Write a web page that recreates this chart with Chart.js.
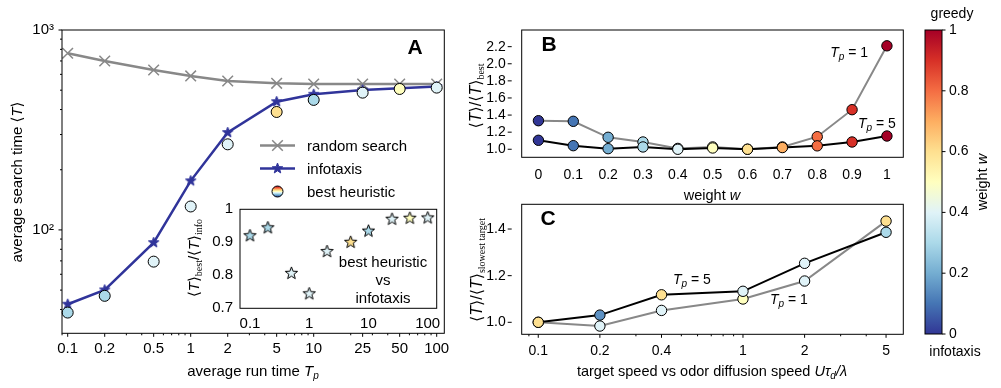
<!DOCTYPE html>
<html>
<head>
<meta charset="utf-8">
<script src="https://cdn.jsdelivr.net/npm/chart.js@4.4.0/dist/chart.umd.min.js"></script>
<style>
html, body { margin: 0; padding: 0; background: #fff; }
#fig { position: relative; width: 1001px; height: 388px; overflow: hidden; }
#fig canvas { position: absolute; left: 0; top: 0; }
</style>
</head>
<body>
<div id="fig">
  <canvas id="chartA" width="1001" height="388"></canvas>
  <canvas id="inset" width="1001" height="388"></canvas>
  <canvas id="chartB" width="1001" height="388"></canvas>
  <canvas id="chartC" width="1001" height="388"></canvas>
  <canvas id="cbar" width="1001" height="388"></canvas>
</div>
<script>
// ---- data: panel A ----
const runTimes = [0.1, 0.2, 0.5, 1, 2, 5, 10, 25, 50, 100];
const runTimeLabels = ['0.1', '0.2', '0.5', '1', '2', '5', '10', '25', '50', '100'];
const randomSearch = [765, 700, 631, 589, 556, 541, 537, 537, 537, 537];
const infotaxis = [42.5, 50.1, 86.4, 176, 307, 438, 477, 501, 511, 521];
const bestHeuristic = [38.6, 46.8, 69.4, 131, 268, 389, 447, 486, 507, 515];
const bestWeight = [0.3, 0.3, 0.4, 0.4, 0.4, 0.6, 0.3, 0.4, 0.5, 0.4];
const searchTicks = [100, 1000];
const searchTickLabels = ['10²', '10³'];

// inset: best heuristic vs infotaxis
const insetRatio = [0.92, 0.944, 0.806, 0.744, 0.872, 0.90, 0.934, 0.97, 0.973, 0.974];
const insetXTicks = [0.1, 1, 10, 100];
const insetXLabels = ['0.1', '1', '10', '100'];
const insetYTicks = [0.7, 0.8, 0.9, 1];
const insetYLabels = ['0.7', '0.8', '0.9', '1'];

// ---- panel B ----
const weights = [0, 0.1, 0.2, 0.3, 0.4, 0.5, 0.6, 0.7, 0.8, 0.9, 1];
const weightLabels = ['0', '0.1', '0.2', '0.3', '0.4', '0.5', '0.6', '0.7', '0.8', '0.9', '1'];
const ratioTp1 = [1.334, 1.327, 1.14, 1.085, 1.01, 1.027, 1.0, 1.027, 1.147, 1.463, 2.21];
const ratioTp5 = [1.105, 1.042, 1.007, 1.027, 1.0, 1.015, 1.0, 1.02, 1.04, 1.085, 1.155];
const ratioBTicks = [1.0, 1.2, 1.4, 1.6, 1.8, 2.0, 2.2];
const ratioBLabels = ['1.0', '1.2', '1.4', '1.6', '1.8', '2.0', '2.2'];

// ---- panel C ----
const speeds = [0.1, 0.2, 0.4, 1, 2, 5];
const speedLabels = ['0.1', '0.2', '0.4', '1', '2', '5'];
const speedTp5 = [1.0, 1.031, 1.118, 1.133, 1.253, 1.386];
const speedTp5Weight = [0.6, 0.15, 0.6, 0.4, 0.4, 0.3];
const speedTp1 = [1.0, 0.984, 1.051, 1.10, 1.177, 1.434];
const speedTp1Weight = [0.6, 0.4, 0.4, 0.5, 0.4, 0.6];
const ratioCTicks = [1.0, 1.2, 1.4];
const ratioCLabels = ['1.0', '1.2', '1.4'];

// colorbar
const cbarTicks = [0, 0.2, 0.4, 0.6, 0.8, 1];
const cbarLabels = ['0', '0.2', '0.4', '0.6', '0.8', '1'];

// ---- helpers ----
const SANS = "'Liberation Sans', Arial, Helvetica, 'DejaVu Sans', sans-serif";
const SERIF = "'Liberation Serif', 'DejaVu Serif', serif";
Chart.defaults.font.family = SANS;
Chart.defaults.color = '#000';

const BLUE = '#30349a';
const GRAY = '#888888';

// RdYlBu reversed
const cmapStops = ['#313695', '#4575b4', '#74add1', '#abd9e9', '#e0f3f8', '#ffffbf',
                   '#fee090', '#fdae61', '#f46d43', '#d73027', '#a50026'];
function hex2rgb(h) { return [1, 3, 5].map(i => parseInt(h.substr(i, 2), 16)); }
function cmap(w) {
  const t = Math.max(0, Math.min(1, w)) * (cmapStops.length - 1);
  const i = Math.min(Math.floor(t), cmapStops.length - 2);
  const f = t - i;
  const a = hex2rgb(cmapStops[i]), b = hex2rgb(cmapStops[i + 1]);
  const c = a.map((v, k) => Math.round(v + (b[k] - v) * f));
  return 'rgb(' + c.join(',') + ')';
}

function starImg(fill, stroke, R) {
  const c = document.createElement('canvas');
  const s = Math.ceil(2 * R + 4);
  c.width = s; c.height = s;
  const g = c.getContext('2d');
  g.beginPath();
  for (let k = 0; k < 10; k++) {
    const r = k % 2 ? R * 0.42 : R;
    const a = -Math.PI / 2 + k * Math.PI / 5;
    const px = s / 2 + r * Math.cos(a), py = s / 2 + r * Math.sin(a);
    if (k) g.lineTo(px, py); else g.moveTo(px, py);
  }
  g.closePath();
  g.fillStyle = fill; g.fill();
  g.lineWidth = 1; g.strokeStyle = stroke; g.stroke();
  return c;
}

function seg(t, size, opt) { return Object.assign({ t: t, size: size }, opt || {}); }
function fontOf(s) {
  return (s.italic ? 'italic ' : '') + (s.bold ? 'bold ' : '') + s.size + 'px ' + (s.serif ? SERIF : SANS);
}
function drawRich(g, item) {
  g.save();
  g.translate(item.x, item.y);
  if (item.rot) g.rotate(item.rot);
  g.fillStyle = '#000';
  g.textAlign = 'left';
  g.textBaseline = 'alphabetic';
  let w = 0;
  const widths = item.segs.map(s => { g.font = fontOf(s); const m = g.measureText(s.t).width; w += m; return m; });
  let x = item.align === 'center' ? -w / 2 : item.align === 'right' ? -w : 0;
  const base = item.segs[0].size * 0.36;
  item.segs.forEach((s, i) => { g.font = fontOf(s); g.fillText(s.t, x, base + (s.dy || 0)); x += widths[i]; });
  g.restore();
}

function tpLabel(x, y, n, align) {
  return { x: x, y: y, align: align, segs: [seg('T', 14, { italic: true }), seg('p', 10, { italic: true, dy: 3 }), seg(' = ' + n, 14)] };
}

// extra drawing per canvas (frame, tick marks, texts)
const extras = {
  chartA: {
    ticks: [
      { axis: 'x', values: runTimes, len: 3.5 },
      { axis: 'x', values: [0.09, 0.3, 0.4, 0.6, 0.7, 0.8, 0.9, 3, 4, 6, 7, 8, 9, 20, 30, 40, 60, 70, 80, 90], len: 2 },
      { axis: 'y', values: searchTicks, len: 3.5 },
      { axis: 'y', values: [40, 50, 60, 70, 80, 90, 200, 300, 400, 500, 600, 700, 800, 900], len: 2 }
    ],
    legend: true,
    texts: [
      { x: 17, y: 182, rot: -Math.PI / 2, align: 'center', segs: [seg('average search time \u27E8', 15), seg('T', 15, { italic: true }), seg('\u27E9', 15)] },
      { x: 253, y: 371, align: 'center', segs: [seg('average run time ', 15), seg('T', 15, { italic: true }), seg('p', 10, { italic: true, dy: 3 })] },
      { x: 415, y: 46, align: 'center', segs: [seg('A', 21, { bold: true })] }
    ]
  },
  inset: {
    bg: '#fff',
    ticks: [],
    texts: [
      { x: 383, y: 262, align: 'center', segs: [seg('best heuristic', 15)] },
      { x: 383, y: 280, align: 'center', segs: [seg('vs', 15)] },
      { x: 383, y: 298, align: 'center', segs: [seg('infotaxis', 15)] },
      { x: 194, y: 258, rot: -Math.PI / 2, align: 'center', segs: [
        seg('\u27E8', 15), seg('T', 15, { italic: true }), seg('\u27E9', 15), seg('best', 10, { serif: true, dy: 3 }),
        seg('/\u27E8', 15), seg('T', 15, { italic: true }), seg('\u27E9', 15), seg('info', 10, { serif: true, dy: 3 })] }
    ]
  },
  chartB: {
    ticks: [{ axis: 'y', values: ratioBTicks, len: 4, off: 10 }],
    texts: [
      { x: 549, y: 43, align: 'center', segs: [seg('B', 21, { bold: true })] },
      tpLabel(868, 52, 1, 'right'),
      tpLabel(858, 123, 5, 'left'),
      { x: 712, y: 195, align: 'center', segs: [seg('weight ', 14.5), seg('w', 14.5, { italic: true })] },
      { x: 475, y: 96, rot: -Math.PI / 2, align: 'center', segs: [
        seg('\u27E8', 16), seg('T', 16, { italic: true }), seg('\u27E9/\u27E8', 16), seg('T', 16, { italic: true }), seg('\u27E9', 16),
        seg('best', 10, { serif: true, dy: 3 })] }
    ]
  },
  chartC: {
    ticks: [
      { axis: 'y', values: ratioCTicks, len: 4, off: 10 },
      { axis: 'x', values: speeds, len: 3.5 },
      { axis: 'x', values: [0.09, 0.3, 0.5, 0.6, 0.7, 0.8, 0.9, 3, 4], len: 2 }
    ],
    texts: [
      { x: 548, y: 217, align: 'center', segs: [seg('C', 21, { bold: true })] },
      tpLabel(673, 279, 5, 'left'),
      tpLabel(770, 299, 1, 'left'),
      { x: 712, y: 371, align: 'center', segs: [seg('target speed vs odor diffusion speed ', 14.5), seg('U\u03C4', 14.5, { italic: true }),
        seg('d', 10, { italic: true, dy: 3 }), seg('/\u03BB', 14.5, { italic: true })] },
      { x: 476, y: 270, rot: -Math.PI / 2, align: 'center', segs: [
        seg('\u27E8', 16), seg('T', 16, { italic: true }), seg('\u27E9/\u27E8', 16), seg('T', 16, { italic: true }), seg('\u27E9', 16),
        seg('slowest target', 10, { serif: true, dy: 3 })] }
    ]
  },
  cbar: {
    ticks: [{ axis: 'yr', values: cbarTicks, len: 3.5 }],
    texts: [
      { x: 952, y: 13, align: 'center', segs: [seg('greedy', 14)] },
      { x: 955, y: 351, align: 'center', segs: [seg('infotaxis', 14)] },
      { x: 982, y: 182, rot: -Math.PI / 2, align: 'center', segs: [seg('weight ', 14.5), seg('w', 14.5, { italic: true })] }
    ]
  }
};

function drawLegendA(g) {
  const rows = [145.5, 168.5, 191.5];
  const x0 = 260, x1 = 295, xm = 277.5, xt = 307;
  g.save();
  // random search
  g.strokeStyle = GRAY; g.lineWidth = 2.5;
  g.beginPath(); g.moveTo(x0, rows[0]); g.lineTo(x1, rows[0]); g.stroke();
  g.lineWidth = 1.5;
  Chart.helpers.drawPoint(g, { pointStyle: 'crossRot', radius: 7.5, borderWidth: 1.5, rotation: 0 }, xm, rows[0]);
  // infotaxis
  g.strokeStyle = BLUE; g.lineWidth = 2.5;
  g.beginPath(); g.moveTo(x0, rows[1]); g.lineTo(x1, rows[1]); g.stroke();
  const st = starImg(BLUE, BLUE, 5.5);
  g.drawImage(st, xm - st.width / 2, rows[1] - st.height / 2);
  // best heuristic: colormap circle
  const gr = g.createLinearGradient(0, rows[2] - 5.5, 0, rows[2] + 5.5);
  cmapStops.forEach((c, i) => gr.addColorStop(1 - i / (cmapStops.length - 1), c));
  g.fillStyle = gr; g.strokeStyle = '#000'; g.lineWidth = 1;
  g.beginPath(); g.arc(xm, rows[2], 5.5, 0, Math.PI * 2); g.fill(); g.stroke();
  g.restore();
  drawRich(g, { x: xt, y: rows[0], align: 'left', segs: [seg('random search', 15)] });
  drawRich(g, { x: xt, y: rows[1], align: 'left', segs: [seg('infotaxis', 15)] });
  drawRich(g, { x: xt, y: rows[2], align: 'left', segs: [seg('best heuristic', 15)] });
}

const figPlugin = {
  id: 'figExtras',
  beforeDatasetsDraw(chart) {
    const e = extras[chart.canvas.id];
    if (!e || !e.bg) return;
    const a = chart.chartArea, g = chart.ctx;
    g.save(); g.fillStyle = e.bg; g.fillRect(a.left, a.top, a.right - a.left, a.bottom - a.top); g.restore();
  },
  afterDraw(chart) {
    const e = extras[chart.canvas.id];
    if (!e) return;
    const a = chart.chartArea, g = chart.ctx;
    g.save();
    g.strokeStyle = '#000'; g.lineWidth = 1;
    g.strokeRect(a.left, a.top, a.right - a.left, a.bottom - a.top);
    e.ticks.forEach(t => {
      const sc = chart.scales[t.axis === 'x' ? 'x' : 'y'];
      const off = t.off || 0;
      g.beginPath();
      t.values.forEach(v => {
        const p = sc.getPixelForValue(v);
        if (t.axis === 'x') { g.moveTo(p, a.bottom + off); g.lineTo(p, a.bottom + off + t.len); }
        else if (t.axis === 'y') { g.moveTo(a.left - off, p); g.lineTo(a.left - off - t.len, p); }
        else { g.moveTo(a.right + off, p); g.lineTo(a.right + off + t.len, p); }
      });
      g.stroke();
    });
    g.restore();
    if (e.legend) drawLegendA(g);
    e.texts.forEach(it => drawRich(g, it));
  }
};
Chart.register(figPlugin);

function axis(type, pos, min, max, values, labels, size, pad, box) {
  return {
    type: type, position: pos, min: min, max: max,
    grid: { display: false, drawTicks: false },
    border: { display: false },
    ticks: { autoSkip: false, maxRotation: 0, minRotation: 0, padding: pad, font: { size: size },
             callback: (v, i) => labels[i] },
    afterBuildTicks: s => { s.ticks = values.map(v => ({ value: v })); },
    afterFit: s => {
      if (pos === 'bottom') s.height = box; else s.width = box;
      s.paddingLeft = 0; s.paddingRight = 0; s.paddingTop = 0; s.paddingBottom = 0;
    }
  };
}

function baseOptions(padding, x, y) {
  return {
    responsive: false, animation: false, devicePixelRatio: 1,
    layout: { padding: padding },
    plugins: { legend: { display: false }, tooltip: { enabled: false } },
    events: [],
    scales: { x: x, y: y }
  };
}

function pts(xs, ys) { return xs.map((x, i) => ({ x: x, y: ys[i] })); }

// ---- panel A ----
new Chart(document.getElementById('chartA'), {
  type: 'line',
  data: {
    datasets: [
      { label: 'best heuristic', data: pts(runTimes, bestHeuristic), showLine: false, clip: false,
        pointStyle: 'circle', pointRadius: 5.5, pointBackgroundColor: bestWeight.map(cmap),
        pointBorderColor: '#000', pointBorderWidth: 1 },
      { label: 'infotaxis', data: pts(runTimes, infotaxis), borderColor: BLUE, borderWidth: 2.5, clip: false,
        pointStyle: starImg(BLUE, BLUE, 5.5), pointRadius: 6 },
      { label: 'random search', data: pts(runTimes, randomSearch), borderColor: GRAY, borderWidth: 2.5, clip: false,
        pointStyle: 'crossRot', pointRadius: 7.5, pointBorderColor: GRAY, pointBorderWidth: 1.5, pointBackgroundColor: GRAY }
    ]
  },
  options: baseOptions({ left: 0, top: 30, right: 1001 - 444.3, bottom: 0 },
    axis('logarithmic', 'bottom', 0.0899, 115.3, runTimes, runTimeLabels, 15, 7, 388 - 333.3),
    axis('logarithmic', 'left', 30.4, 1000, searchTicks, searchTickLabels, 15, 8, 62))
});

// ---- inset ----
new Chart(document.getElementById('inset'), {
  type: 'line',
  data: {
    datasets: [
      { data: pts(runTimes, insetRatio), showLine: false, clip: false,
        pointStyle: bestWeight.map(w => starImg(cmap(w), '#000', 6.5)), pointRadius: 7 }
    ]
  },
  options: baseOptions({ left: 0, top: 209.3, right: 1001 - 436.7, bottom: 0 },
    axis('logarithmic', 'bottom', 0.0678, 141.9, insetXTicks, insetXLabels, 15, 7, 388 - 308.3),
    axis('linear', 'left', 0.7, 1.0, insetYTicks, insetYLabels, 15, 7, 240))
});

// ---- panel B ----
new Chart(document.getElementById('chartB'), {
  type: 'line',
  data: {
    datasets: [
      { data: pts(weights, ratioTp5), borderColor: '#000', borderWidth: 2, clip: false,
        pointRadius: 5.2, pointBackgroundColor: weights.map(cmap), pointBorderColor: '#000', pointBorderWidth: 1 },
      { data: pts(weights, ratioTp1), borderColor: GRAY, borderWidth: 2, clip: false,
        pointRadius: 5.2, pointBackgroundColor: weights.map(cmap), pointBorderColor: '#000', pointBorderWidth: 1 }
    ]
  },
  options: baseOptions({ left: 440, top: 30, right: 1001 - 903.3, bottom: 0 },
    axis('linear', 'bottom', -0.048, 1.047, weights, weightLabels, 14, 9, 388 - 157.3),
    axis('linear', 'left', 0.906, 2.395, ratioBTicks, ratioBLabels, 14, 16, 81.7))
});

// ---- panel C ----
new Chart(document.getElementById('chartC'), {
  type: 'line',
  data: {
    datasets: [
      { data: pts(speeds, speedTp5), borderColor: '#000', borderWidth: 2, clip: false,
        pointRadius: 5.2, pointBackgroundColor: speedTp5Weight.map(cmap), pointBorderColor: '#000', pointBorderWidth: 1 },
      { data: pts(speeds, speedTp1), borderColor: GRAY, borderWidth: 2, clip: false,
        pointRadius: 5.2, pointBackgroundColor: speedTp1Weight.map(cmap), pointBorderColor: '#000', pointBorderWidth: 1 }
    ]
  },
  options: baseOptions({ left: 440, top: 204.3, right: 1001 - 903.3, bottom: 0 },
    axis('logarithmic', 'bottom', 0.083, 6.07, speeds, speedLabels, 14, 8, 388 - 334.3),
    axis('linear', 'left', 0.9486, 1.506, ratioCTicks, ratioCLabels, 14, 16, 81.7))
});

// ---- colorbar ----
new Chart(document.getElementById('cbar'), {
  type: 'bar',
  data: {
    labels: ['w'],
    datasets: [{
      data: [[0, 1]], barPercentage: 1, categoryPercentage: 1, borderWidth: 0,
      backgroundColor: (ctx) => {
        const a = ctx.chart.chartArea;
        if (!a) return cmap(0.5);
        const gr = ctx.chart.ctx.createLinearGradient(0, a.bottom, 0, a.top);
        cmapStops.forEach((c, i) => gr.addColorStop(i / (cmapStops.length - 1), c));
        return gr;
      }
    }]
  },
  options: {
    responsive: false, animation: false, devicePixelRatio: 1, events: [],
    layout: { padding: { left: 925, top: 30, right: 0, bottom: 388 - 334 } },
    plugins: { legend: { display: false }, tooltip: { enabled: false } },
    scales: {
      x: { type: 'category', display: false },
      y: axis('linear', 'right', 0, 1, cbarTicks, cbarLabels, 14, 7, 1001 - 942)
    }
  }
});
</script>
</body>
</html>
